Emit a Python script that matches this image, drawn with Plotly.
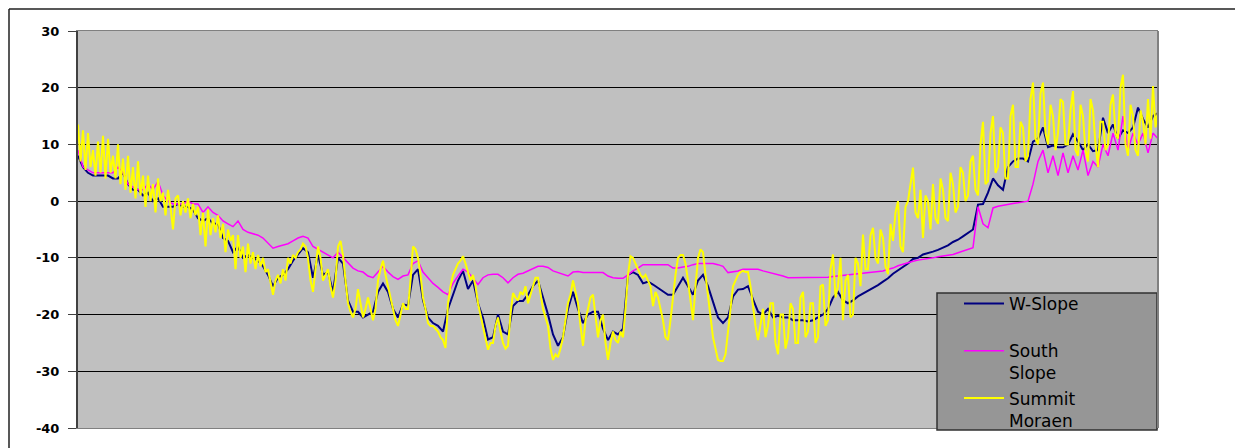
import plotly.graph_objects as go

# W-Slope and South Slope: one reading per sample step
w_slope = [8, 6, 5, 4.5, 4.5, 4.5, 4.5, 4, 4, 5, 3, 2, 2, 1, 1.5, 0, 0.5, -1, -1, -1,
           -0.5, -1, -1, -1.5, -3, -3.5, -3, -4, -4, -6.5, -7, -9, -8, -10, -9.5, -10, -10.5, -11.5, -13, -15,
           -13.5, -13, -12, -10.5, -9.5, -8.3, -9, -13.5, -9.5, -13, -12.5, -16, -10, -11, -17.5, -19.5, -19.5, -20.5, -20, -19.5,
           -16, -14.5, -16, -19, -20.5, -18.2, -18.4, -13, -12, -17.5, -20.5, -21.5, -22, -23, -19, -16.5, -14, -12.3, -15.5, -14,
           -18, -20.6, -24.4, -24, -20, -23, -23.5, -18.5, -17.6, -17.6, -16.5, -15, -14, -17, -20, -23.5, -25.5, -24, -19, -16,
           -19, -21.5, -20, -19.5, -19.5, -22.5, -24.5, -23, -23.5, -22.5, -13, -12.5, -13, -14.5, -14.2, -14.7, -15.3, -16, -16.5, -16.5,
           -15, -13.5, -15, -16.5, -14, -13, -15, -17.8, -20.5, -21.5, -20.5, -16.8, -15.6, -15.5, -15, -17.3, -19.5, -20, -19, -20.5,
           -20.2, -20.5, -20.5, -21, -21, -21, -21.2, -21, -20.5, -20, -19, -17, -16, -17.5, -18, -17.5, -16.8, -16.3, -15.9, -15.3,
           -14.8, -14.2, -13.6, -12.8, -12.2, -11.5, -11, -10.2, -10, -9.4, -9.2, -8.9, -8.6, -8.2, -7.8, -7.2, -6.8, -6.2, -5.6, -5,
           -0.6, -0.5, 1.5, 4, 2.8, 2, 6, 7, 7.5, 7.5, 7, 10.5, 11, 13, 9.5, 9.8, 9.5, 9.5, 10, 11.8,
           10.5, 9, 10, 8.8, 9, 14.7, 12, 13.5, 11, 12.5, 12, 13, 16.5, 14.5, 13, 15, 15.5]

south_slope = [9, 6, 5.5, 5, 5, 5, 5, 5, 6, 5, 3, 2.5, 2, 2, 3, 2, 3.5, 1, 0, -0.5,
               -0.5, -0.5, 0, -0.5, -0.5, -2, -1, -2, -2.5, -3.5, -4, -4.5, -3.5, -5, -5.5, -5.7, -6, -6.5, -7.5, -8.3,
               -8, -7.8, -7.5, -7, -6.5, -6.2, -6.5, -8, -8.5, -9, -9.5, -10, -9, -10, -11, -11.8, -12.3, -12.5, -13.2, -13.5,
               -12.5, -11.5, -12.5, -13.3, -13.8, -13.2, -13, -11, -10.5, -12.5, -13.5, -14.5, -15.2, -16, -16.5, -14.5, -13.2, -12, -12.5, -13.5,
               -14.7, -13.5, -13, -12.9, -12.9, -13.5, -14.4, -13.5, -12.9, -12.7, -12.3, -12, -11.5, -11.5, -11.7, -12.3, -12.6, -13, -13.2, -12.5,
               -12.4, -12.6, -12.6, -12.6, -12.6, -12.6, -13.2, -13.5, -13.6, -13.6, -13, -12.3, -11.8, -11.2, -11.2, -11.2, -11.2, -11.2, -11.2, -11.8,
               -11.8, -11.6, -11.5, -11.2, -11, -11, -11, -11, -11.2, -11.5, -12.6, -12.5, -12.3, -12, -12, -12, -12, -12.3, -12.5, -12.7,
               -12.9, -13.2, -13.5, -13.5, -13.5, -13.5, -13.5, -13.5, -13.5, -13.5, -13.4, -13.3, -13.2, -13.1, -13, -12.9, -12.8, -12.7, -12.6, -12.5,
               -12.4, -12.3, -12, -11.8, -11.4, -11.1, -10.9, -10.6, -10.4, -10.3, -10.1, -10, -9.8, -9.7, -9.6, -9.4, -9.1, -8.8, -8.6, -8.2,
               -1, -4, -4.7, -1.2, -0.9, -0.7, -0.6, -0.4, -0.3, -0.2, 0, 3, 7, 9, 5, 8, 4.5, 8.5, 5, 8,
               5.5, 9, 4.5, 7, 6, 10, 8, 12, 9, 15, 9, 12, 10, 12, 8.5, 12, 11]

# Summit Moraen: two readings per sample step (it is much noisier)
summit_moraen = [
    13.5, 7, 12.5, 5.5, 12, 6, 9, 4.5, 10.5, 5, 11.5, 4, 11, 5, 8, 4, 10, 3, 7.5, 2,
    8, 1.5, 6, 0.5, 7, 1, 4.5, -1, 4.5, 0, 3, -2, 4, 0, 1.5, -2.5, 2, -1, -5, 0.5,
    1, -2.5, 0, -2, 0.5, -3, -0.5, -2.5, -1, -6, -2, -8, -1.5, -6, -3, -5.5, -2.5, -6.5, -4, -9,
    -5, -7, -6, -12, -6, -10, -8, -12.5, -7.5, -11, -9, -12, -9.5, -11.5, -10, -12.5, -12, -14, -16.5, -14,
    -13, -14.5, -12, -14, -10, -11, -9.5, -10, -9, -8.5, -7.5, -8, -10, -14, -16, -12, -8, -10, -14, -13,
    -12, -15, -17, -14, -8, -7, -9.5, -14, -18, -19.5, -20.5, -19, -15.5, -18, -20.5, -19, -17, -19, -21, -19,
    -14, -12, -10.5, -13, -15, -17, -19, -21, -22, -20, -18, -19, -19, -14, -8, -8.5, -10, -13, -17, -19,
    -21.5, -22, -22, -22.5, -23, -24, -24.5, -25.9, -18, -15, -13, -12, -11, -10.5, -9.7, -11, -12.5, -14, -13, -15,
    -18, -20, -22, -24, -26.2, -25, -25, -22, -20.5, -23, -25, -26, -25.5, -20, -16.2, -17, -17.5, -16, -16.5, -15,
    -18, -16.5, -15, -13.5, -13.5, -16, -19, -20.5, -22, -26, -28, -27, -27.5, -26, -24, -21, -18, -16.5, -14, -16,
    -18, -22, -25.5, -21, -19, -17, -16.5, -20, -24, -21, -20, -25, -28, -25, -23, -24.5, -25, -23, -24, -19,
    -13, -9.7, -10, -11, -12, -13, -13.5, -13, -14, -15, -18.5, -16, -17, -19, -21, -24, -24.5, -21, -16.5, -13,
    -10, -9.5, -9.5, -11, -14, -18, -21, -15, -10, -8.5, -9, -13, -17, -21, -24, -26, -28, -28.2, -28.2, -27,
    -23, -18, -15, -14, -13, -12.5, -12.3, -12.5, -12.5, -15, -19, -22, -24.5, -22, -19, -24, -22, -18, -18, -25,
    -27, -20, -20, -26, -24, -18, -19, -25, -25, -17, -16, -24, -23, -18, -18, -25, -24, -15, -14.7, -22,
    -21, -12, -9.4, -17, -15, -10, -21, -14, -13, -20.5, -20, -10, -11, -15, -5.9, -12, -12, -6, -4.7, -10,
    -11, -5, -6.5, -11.5, -12.9, -4, -7, -2, 0, -8, -9, -1, 0, 3, 5.9, -2, -3, 2, -6.5, 1,
    0, -5, 3, -3, -4, 4, 2, -3, -3.5, 5, 3, -2, -1, 6, 5, 0, 1, 7, 8, 2,
    1, 10, 14, 3, 3.5, 12, 15, 5, 6, 13, 12, 4, 4, 15, 17, 6, 6, 14, 13, 7,
    8, 18, 20.9, 11, 10, 19, 20.9, 12, 10, 17, 15, 9, 12, 18, 17.5, 10, 10, 16, 19.4, 9,
    8, 17, 15, 9, 7, 18, 16, 10, 6, 14, 14, 9, 10, 17, 18.8, 12, 11, 20, 22.3, 10,
    8, 17, 15, 9, 8, 16, 14, 10, 18, 11, 20.3, 13, 16]

series_names = ["W-Slope<br> ", "South<br>Slope", "Summit<br>Moraen"]
series_colors = ["#000080", "#FF00FF", "#FFFF00"]
series_widths = [2, 1.5, 2]

tick_values = [-40, -30, -20, -10, 0, 10, 20, 30]
tick_labels = ["-40", "-30", "-20", "-10", "0", "10", "20", "30"]

x_index = list(range(len(w_slope)))
x_index_fine = [j / 2 for j in range(len(summit_moraen))]

fig = go.Figure()
for xs, vals, name, col, lw in zip([x_index, x_index, x_index_fine],
                                   [w_slope, south_slope, summit_moraen],
                                   series_names, series_colors, series_widths):
    fig.add_trace(go.Scatter(x=xs, y=vals, mode="lines", name=name,
                             line=dict(color=col, width=lw)))

# The page adds an 8px body margin; lay the figure out in window pixels minus that offset.
OFF = 8
W, H = 1243 - OFF, 448 - OFF
L, R, T, B = 78 - OFF, 1158 - OFF, 31 - OFF, 428 - OFF


def px(x):
    return (x - OFF - L) / (R - L)


def py(y):
    return (B - (y - OFF)) / (B - T)


shapes = [
    # legend box
    dict(type="rect", xref="paper", yref="paper", x0=px(937), x1=px(1157), y0=py(430), y1=py(293),
         fillcolor="#969696", line=dict(color="#303030", width=1.5), layer="above"),
    # right edge of plot area
    dict(type="line", xref="paper", yref="paper", x0=1, x1=1, y0=0, y1=1,
         line=dict(color="#808080", width=2), layer="above"),
    # outer chart border
    dict(type="line", xref="paper", yref="paper", x0=px(9), x1=px(1260), y0=py(9), y1=py(9),
         line=dict(color="#202020", width=1.5)),
    dict(type="line", xref="paper", yref="paper", x0=px(9), x1=px(9), y0=py(9), y1=py(470),
         line=dict(color="#202020", width=1.5)),
]

fig.update_layout(
    width=W, height=H,
    margin=dict(l=L, r=W - R, t=T, b=H - B, pad=0, autoexpand=False),
    paper_bgcolor="white",
    plot_bgcolor="#C0C0C0",
    showlegend=True,
    legend=dict(x=px(959), y=py(286), xanchor="left", yanchor="top",
                bgcolor="rgba(0,0,0,0)", borderwidth=0,
                font=dict(family="DejaVu Sans", size=17, color="black"),
                valign="top", tracegroupgap=0, itemwidth=40),
    shapes=shapes,
    xaxis=dict(range=[0, len(w_slope) - 1], showgrid=False, zeroline=False,
               showticklabels=False, ticks="", showline=True, linecolor="#808080",
               linewidth=1, mirror=True),
    yaxis=dict(range=[-40, 30], tickvals=tick_values, ticktext=tick_labels,
               showgrid=True, gridcolor="black", gridwidth=1, zeroline=False,
               ticks="outside", ticklen=8, tickcolor="#404040", tickwidth=1,
               showline=True, linecolor="#404040", linewidth=2,
               ticklabelstandoff=6,
               tickfont=dict(family="DejaVu Sans", size=13, color="black", weight="bold")),
)

fig.write_html("out.html")
